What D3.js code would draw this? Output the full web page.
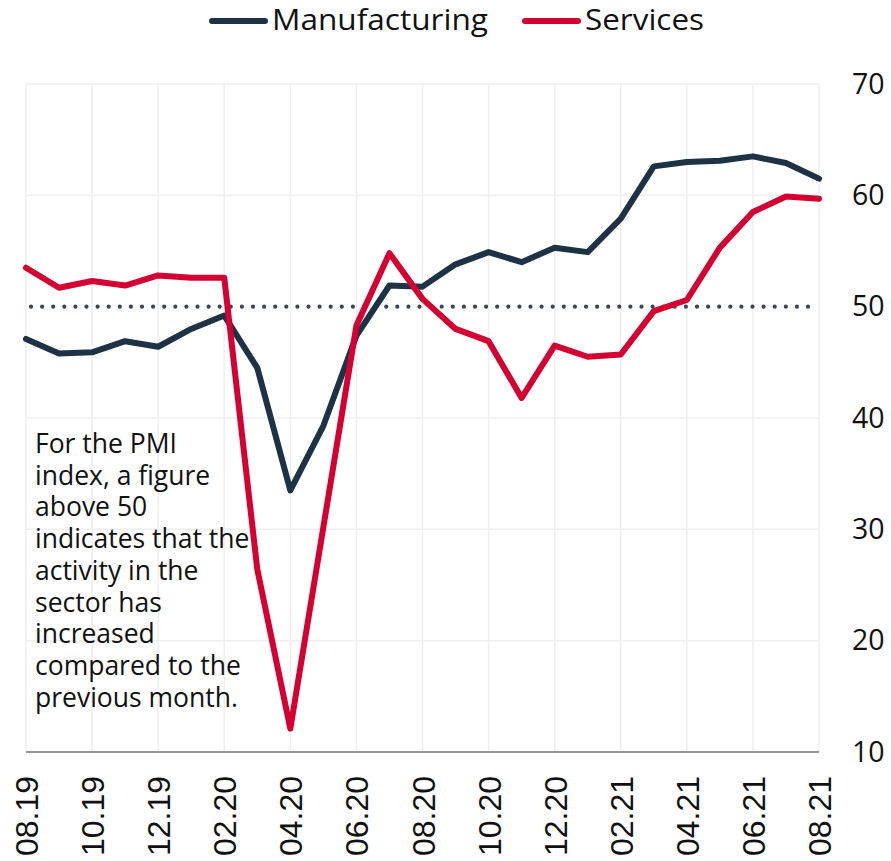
<!DOCTYPE html>
<html>
<head>
<meta charset="utf-8">
<script src="https://cdn.jsdelivr.net/npm/d3@7"></script>
<style>
  html, body { margin: 0; padding: 0; background: #fff; }
  svg { display: block; }
</style>
</head>
<body>
<svg id="chart" width="891" height="861"></svg>
<script>
const months = ["08.19", "09.19", "10.19", "11.19", "12.19", "01.20", "02.20", "03.20", "04.20",
  "05.20", "06.20", "07.20", "08.20", "09.20", "10.20", "11.20", "12.20", "01.21", "02.21",
  "03.21", "04.21", "05.21", "06.21", "07.21", "08.21"];

const manufacturing = [47.1, 45.8, 45.9, 46.9, 46.4, 48.0, 49.2, 44.5, 33.5, 39.3, 47.4, 51.9,
  51.8, 53.8, 54.9, 54.0, 55.3, 54.9, 57.9, 62.6, 63.0, 63.1, 63.5, 62.9, 61.5];

const services = [53.5, 51.7, 52.3, 51.9, 52.8, 52.6, 52.6, 26.4, 12.1, 30.2, 48.3, 54.8,
  50.7, 48.0, 46.9, 41.8, 46.5, 45.5, 45.7, 49.6, 50.6, 55.3, 58.5, 59.9, 59.7];

const yTicks = [10, 20, 30, 40, 50, 60, 70];
const threshold = 50;

const seriesNames = ["Manufacturing", "Services"];
const seriesColors = ["#1e3246", "#d50032"];

const note = ["For the PMI", "index, a figure", "above 50", "indicates that the",
  "activity in the", "sector has", "increased", "compared to the", "previous month."];

const margin = { left: 26, right: 819, top: 84, bottom: 752 };

const svg = d3.select("#chart");

const x = d3.scalePoint()
  .domain(months)
  .range([margin.left, margin.right]);

const y = d3.scaleLinear()
  .domain([10, 70])
  .range([margin.bottom, margin.top]);

const tickMonths = months.filter((m, i) => i % 2 === 0);

// grid
const grid = svg.append("g").attr("stroke", "#efefef").attr("stroke-width", 1.5);
grid.selectAll("line.v")
  .data(tickMonths)
  .join("line")
  .attr("x1", d => x(d)).attr("x2", d => x(d))
  .attr("y1", margin.top).attr("y2", margin.bottom);
grid.selectAll("line.h")
  .data(yTicks.filter(t => t !== threshold))
  .join("line")
  .attr("x1", margin.left).attr("x2", margin.right)
  .attr("y1", d => y(d)).attr("y2", d => y(d));

// threshold dotted line
svg.append("line")
  .attr("x1", x(months[0]) + 5)
  .attr("x2", margin.right - 4)
  .attr("y1", y(threshold)).attr("y2", y(threshold))
  .attr("stroke", "#3a4658")
  .attr("stroke-width", 4.2)
  .attr("stroke-linecap", "round")
  .attr("stroke-dasharray", "0,11.1");

// bottom axis
const xAxis = svg.append("g")
  .attr("transform", `translate(0,${margin.bottom})`)
  .call(d3.axisBottom(x).tickValues(tickMonths).tickSize(0).tickPadding(0));
xAxis.select(".domain").attr("stroke", "#777").attr("stroke-width", 1.5)
  .attr("d", `M${margin.left},0H${margin.right}`);
xAxis.selectAll(".tick text")
  .attr("font-family", "Liberation Sans, Arial, sans-serif")
  .attr("font-size", 32)
  .attr("fill", "#111")
  .attr("transform", "rotate(-90)")
  .attr("text-anchor", "end")
  .attr("x", -24)
  .attr("y", 0)
  .attr("dy", "0.36em");

// right axis
const yAxis = svg.append("g")
  .attr("transform", `translate(${margin.right},0)`)
  .call(d3.axisRight(y).tickValues(yTicks).tickSize(0).tickPadding(33));
yAxis.select(".domain").remove();
yAxis.selectAll(".tick text")
  .attr("font-family", "Open Sans, sans-serif")
  .attr("font-size", 28.5)
  .attr("fill", "#111");

// lines
const line = d3.line()
  .x((d, i) => x(months[i]))
  .y(d => y(d));

svg.append("g")
  .selectAll("path")
  .data([manufacturing, services])
  .join("path")
  .attr("d", line)
  .attr("fill", "none")
  .attr("stroke", (d, i) => seriesColors[i])
  .attr("stroke-width", 6)
  .attr("stroke-linejoin", "round")
  .attr("stroke-linecap", "round");

// legend
const legendX = [212, 525];
const legendW = [216, 119];
const legend = svg.append("g")
  .selectAll("g")
  .data(seriesNames)
  .join("g")
  .attr("transform", (d, i) => `translate(${legendX[i]},21)`);
legend.append("line")
  .attr("x1", 0).attr("x2", 53)
  .attr("stroke", (d, i) => seriesColors[i])
  .attr("stroke-width", 6)
  .attr("stroke-linecap", "round");
legend.append("text")
  .attr("x", 60)
  .attr("y", 9)
  .attr("font-family", "Open Sans, sans-serif")
  .attr("font-size", 29)
  .attr("fill", "#111")
  .attr("textLength", (d, i) => legendW[i])
  .attr("lengthAdjust", "spacingAndGlyphs")
  .text(d => d);

// note
svg.append("text")
  .attr("font-family", "Open Sans, sans-serif")
  .attr("font-size", 26.5)
  .attr("fill", "#111")
  .selectAll("tspan")
  .data(note)
  .join("tspan")
  .attr("x", 35)
  .attr("y", (d, i) => 453 + i * 31.7)
  .text(d => d);
</script>
</body>
</html>
